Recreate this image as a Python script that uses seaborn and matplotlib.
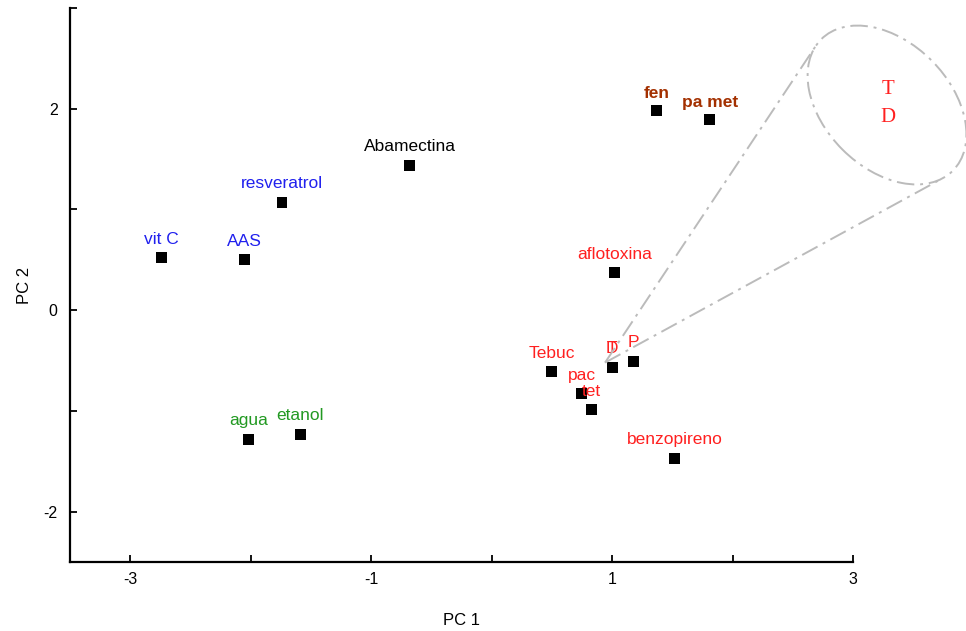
import numpy as np
import matplotlib
matplotlib.use("Agg")
import matplotlib.pyplot as plt
from matplotlib.patches import Ellipse
from matplotlib.lines import Line2D
from matplotlib.transforms import IdentityTransform
import seaborn as sns

# PCA scores
names = ["fen", "pa met", "Abamectina", "resveratrol", "vit C", "AAS",
         "aflotoxina", "T", "D", "P", "Tebuc", "pac", "tet",
         "benzopireno", "agua", "etanol"]
pc1 = [1.37, 1.81, -0.68, -1.74, -2.74, -2.05,
       1.02, 1.00, 1.00, 1.18, 0.50, 0.75, 0.83,
       1.52, -2.02, -1.59]
pc2 = [1.98, 1.89, 1.44, 1.07, 0.52, 0.50,
       0.37, -0.57, -0.57, -0.51, -0.61, -0.83, -0.99,
       -1.47, -1.28, -1.23]
groups = ["tox2", "tox2", "ctrl", "anti", "anti", "anti",
          "tox", "tox", "tox", "tox", "tox", "tox", "tox",
          "tox", "solv", "solv"]

group_colors = {"tox2": "#a33000", "ctrl": "black", "anti": "#2020ee",
                "tox": "#ff2020", "solv": "#229922"}

sns.set_style("white")
plt.rcParams["font.family"] = ["Liberation Sans", "DejaVu Sans"]
plt.rcParams["text.color"] = "black"
plt.rcParams["axes.labelcolor"] = "black"
plt.rcParams["xtick.color"] = "black"
plt.rcParams["ytick.color"] = "black"

fig = plt.figure(figsize=(9.66, 6.31), dpi=100)
ax = fig.add_axes([70 / 966, 69 / 631, 783 / 966, 554 / 631])

sns.scatterplot(x=pc1, y=pc2, marker="s", color="black", s=62,
                edgecolor="none", ax=ax, zorder=3)

for n, x, y, g in zip(names, pc1, pc2, groups):
    bold = g == "tox2"
    ax.annotate(n, (x, y), xytext=(0, 7 if bold else 8),
                textcoords="offset points", ha="center", va="bottom",
                color=group_colors[g], fontsize=12.5,
                fontweight="bold" if bold else "normal")

ax.set_xlim(-3.5, 3)
ax.set_ylim(-2.5, 3)
ax.set_xticks(range(-3, 4))
ax.set_xticklabels(["-3", "", "-1", "", "1", "", "3"])
ax.set_yticks(range(-2, 4))
ax.set_yticklabels(["-2", "", "0", "", "2", ""])
ax.tick_params(direction="in", length=5, width=1.3, labelsize=11.5, pad=7,
               bottom=True, left=True)
ax.tick_params(axis="y", pad=9)
sns.despine(ax=ax)
for s in ["left", "bottom"]:
    ax.spines[s].set_linewidth(1.6)
    ax.spines[s].set_color("black")
ax.set_xlabel("PC 1", fontsize=12, labelpad=19)
ax.set_ylabel("PC 2", fontsize=12, labelpad=8)

# magnifier over the overlapping T / D labels
ident = IdentityTransform()
gray = "#bbbbbb"
ls = (0, (9, 3, 1.5, 3))
idx = names.index("D")
apex = ax.transData.transform((pc1[idx], pc2[idx])) + np.array([-7, 5])
cx, cy, ew, eh, ang = 887, 526, 186, 126, -45
fig.add_artist(Ellipse((cx, cy), ew, eh, angle=ang, transform=ident,
                       fill=False, ec=gray, lw=1.4, ls=ls))
t = np.linspace(0, 2 * np.pi, 720)
th = np.deg2rad(ang)
ex = cx + ew / 2 * np.cos(t) * np.cos(th) - eh / 2 * np.sin(t) * np.sin(th)
ey = cy + ew / 2 * np.cos(t) * np.sin(th) + eh / 2 * np.sin(t) * np.cos(th)
angles = np.arctan2(ey - apex[1], ex - apex[0])
for k in [np.argmin(angles), np.argmax(angles)]:
    fig.add_artist(Line2D([apex[0], ex[k]], [apex[1], ey[k]], transform=ident,
                          color=gray, lw=1.4, ls=ls))
fig.text(888, 541, "T", transform=ident, ha="center", va="center",
         color="#ff2020", fontsize=15, family="Liberation Serif")
fig.text(888, 514, "D", transform=ident, ha="center", va="center",
         color="#ff2020", fontsize=15, family="Liberation Serif")

fig.savefig("out.png", dpi=100)
